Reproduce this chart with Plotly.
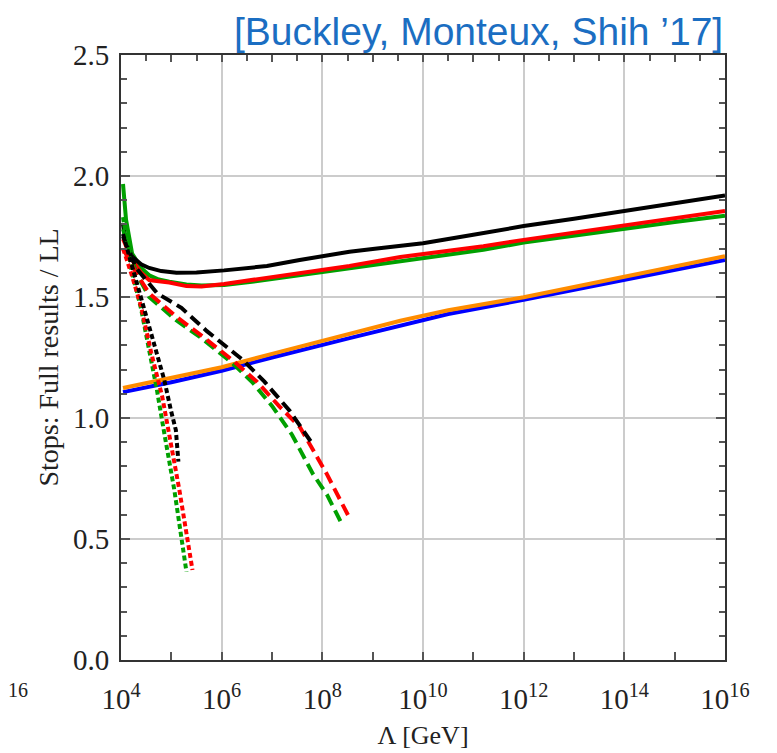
import plotly.graph_objects as go

# exponents log10(Lambda/GeV) and ratios
blk_solid_x = [4.04, 4.1, 4.22, 4.4, 4.56, 4.8, 5.1, 5.5, 6.05, 6.5, 6.9, 7.55, 8.0, 8.54, 9.0, 10.0, 11.0, 12.0, 13.0, 14.0, 15.0, 16.0]
blk_solid_y = [1.80, 1.72, 1.667, 1.635, 1.62, 1.607, 1.60, 1.601, 1.61, 1.618, 1.628, 1.653, 1.668, 1.687, 1.698, 1.722, 1.757, 1.793, 1.823, 1.855, 1.888, 1.920]

red_solid_x = [4.04, 4.1, 4.22, 4.4, 4.56, 4.75, 4.96, 5.3, 5.6, 6.05, 6.6, 7.2, 7.8, 8.54, 9.55, 10.5, 11.2, 12.0, 13.0, 14.0, 15.0, 16.0]
red_solid_y = [1.74, 1.71, 1.653, 1.60, 1.57, 1.565, 1.56, 1.545, 1.543, 1.554, 1.57, 1.588, 1.606, 1.628, 1.665, 1.69, 1.71, 1.736, 1.765, 1.795, 1.825, 1.855]

grn_solid_x = [4.04, 4.1, 4.22, 4.4, 4.56, 4.75, 4.96, 5.3, 5.6, 6.05, 6.6, 7.2, 7.8, 8.54, 9.55, 10.5, 11.2, 12.0, 13.0, 14.0, 15.0, 16.0]
grn_solid_y = [1.967, 1.82, 1.68, 1.62, 1.59, 1.572, 1.563, 1.552, 1.548, 1.55, 1.563, 1.58, 1.597, 1.617, 1.646, 1.672, 1.695, 1.725, 1.754, 1.783, 1.81, 1.836]

org_solid_x = [4.04, 5.0, 6.0, 7.0, 8.54, 9.55, 10.5, 12.0, 13.0, 14.0, 15.0, 16.0]
org_solid_y = [1.124, 1.165, 1.21, 1.265, 1.347, 1.402, 1.445, 1.499, 1.541, 1.585, 1.627, 1.669]

blu_solid_x = [4.04, 5.0, 6.0, 7.0, 8.54, 9.55, 10.5, 12.0, 13.0, 14.0, 15.0, 16.0]
blu_solid_y = [1.107, 1.148, 1.195, 1.25, 1.330, 1.380, 1.430, 1.488, 1.530, 1.572, 1.612, 1.653]

blk_dash_x = [4.04, 4.3, 4.72, 5.2, 5.7, 6.05, 6.42, 6.85, 7.35, 7.78]
blk_dash_y = [1.75, 1.62, 1.515, 1.455, 1.36, 1.30, 1.24, 1.15, 1.03, 0.90]

red_dash_x = [4.04, 4.3, 4.56, 5.09, 5.6, 6.21, 6.7, 7.15, 7.55, 8.08, 8.54]
red_dash_y = [1.70, 1.60, 1.515, 1.42, 1.34, 1.24, 1.15, 1.047, 0.964, 0.772, 0.587]

grn_dash_x = [4.04, 4.3, 4.56, 5.09, 5.6, 6.21, 6.6, 7.0, 7.4, 7.81, 8.1, 8.38]
grn_dash_y = [1.78, 1.60, 1.50, 1.405, 1.33, 1.227, 1.15, 1.05, 0.93, 0.77, 0.68, 0.565]

blk_dot_x = [4.04, 4.2, 4.42, 4.65, 4.86, 4.99, 5.09, 5.14]
blk_dot_y = [1.76, 1.64, 1.49, 1.31, 1.157, 1.033, 0.95, 0.82]

red_dot_x = [4.04, 4.2, 4.4, 4.6, 4.82, 4.96, 5.16, 5.42]
red_dot_y = [1.70, 1.60, 1.46, 1.27, 1.088, 0.937, 0.702, 0.372]

grn_dot_x = [4.04, 4.2, 4.4, 4.6, 4.71, 4.86, 5.06, 5.30]
grn_dot_y = [1.83, 1.62, 1.45, 1.25, 1.12, 0.937, 0.702, 0.365]

x_tick_exps = [4, 6, 8, 10, 12, 14, 16]
y_ticks = [0.0, 0.5, 1.0, 1.5, 2.0, 2.5]

BLACK = "#000000"
RED = "#FF0000"
GREEN = "#00A000"
BLUE = "#0000FF"
ORANGE = "#FF8C00"

fig = go.Figure()

def add(xe, y, color, dash="solid", width=4):
    fig.add_trace(go.Scatter(x=[10 ** v for v in xe], y=y, mode="lines",
                             line=dict(color=color, width=width, dash=dash),
                             showlegend=False, hoverinfo="skip"))

DASH = "12px,6px"
DOT = "5px,3px"

add(blu_solid_x, blu_solid_y, BLUE)
add(org_solid_x, org_solid_y, ORANGE)
add(grn_solid_x, grn_solid_y, GREEN)
add(red_solid_x, red_solid_y, RED)
add(blk_solid_x, blk_solid_y, BLACK)
add(grn_dash_x, grn_dash_y, GREEN, DASH)
add(red_dash_x, red_dash_y, RED, DASH)
add(blk_dash_x, blk_dash_y, BLACK, DASH)
add(grn_dot_x, grn_dot_y, GREEN, DOT)
add(red_dot_x, red_dot_y, RED, DOT)
add(blk_dot_x, blk_dot_y, BLACK, DOT)

# empty trace to carry the top frame axis
fig.add_trace(go.Scatter(x=[], y=[], xaxis="x2", showlegend=False, hoverinfo="skip"))

serif = "Liberation Serif"

fig.update_layout(
    width=777, height=753,
    margin=dict(l=113, r=60, t=47, b=101),
    paper_bgcolor="white", plot_bgcolor="white",
    font=dict(family=serif, size=28, color="#222"),
    xaxis=dict(
        type="log", range=[4, 16],
        tickvals=[10 ** e for e in x_tick_exps],
        ticktext=[f"10<sup>{e}</sup>" for e in x_tick_exps],
        ticks="inside", ticklen=8, tickwidth=1.5, tickcolor="#555",
        ticklabelstandoff=12,
        minor=dict(tickvals=[10 ** e for e in range(5, 16, 2)], ticks="inside", ticklen=8, tickcolor="#555", showgrid=False),
        showgrid=True, gridcolor="#cccccc", gridwidth=1.5,
        showline=True, linecolor="#333", linewidth=2, mirror=True,
        title=dict(text="Λ [GeV]", font=dict(family=serif, size=26), standoff=12),
        tickfont=dict(family=serif, size=29, color="#222"),
        zeroline=False,
    ),
    xaxis2=dict(
        type="log", range=[4, 16], overlaying="x", side="top", anchor="y",
        tickvals=[10 ** e for e in range(4, 17)],
        ticks="inside", ticklen=7, tickwidth=1.5, tickcolor="#555",
        minor=dict(tickvals=[10 ** (e + 0.5) for e in range(4, 16)], ticks="inside", ticklen=6, tickcolor="#555", showgrid=False),
        showticklabels=False, showgrid=False, showline=False, zeroline=False,
    ),
    yaxis=dict(
        range=[0, 2.5],
        tickvals=y_ticks,
        ticktext=[f"{v:.1f}" for v in y_ticks],
        ticks="inside", ticklen=9, tickwidth=1.5, tickcolor="#555",
        ticklabelstandoff=4,
        minor=dict(dtick=0.1, ticks="inside", ticklen=6, tickcolor="#555", showgrid=False),
        showgrid=True, gridcolor="#cccccc", gridwidth=1.5,
        showline=True, linecolor="#333", linewidth=2, mirror="ticks",
        title=dict(text="Stops: Full results / LL", font=dict(family=serif, size=28), standoff=6),
        tickfont=dict(family=serif, size=29, color="#222"),
        zeroline=False,
    ),
    annotations=[
        dict(text="[Buckley, Monteux, Shih ’17]", xref="paper", yref="paper",
             x=1.0, y=1.0, xanchor="right", yanchor="bottom", yshift=0, showarrow=False,
             font=dict(family="Liberation Sans", size=39, color="#1B6EC2")),
        dict(text="16", xref="paper", yref="paper", x=-0.19, y=-0.05,
             xanchor="left", yanchor="middle", showarrow=False,
             font=dict(family=serif, size=20, color="#222")),
    ],
)

fig.write_html("out.html")
